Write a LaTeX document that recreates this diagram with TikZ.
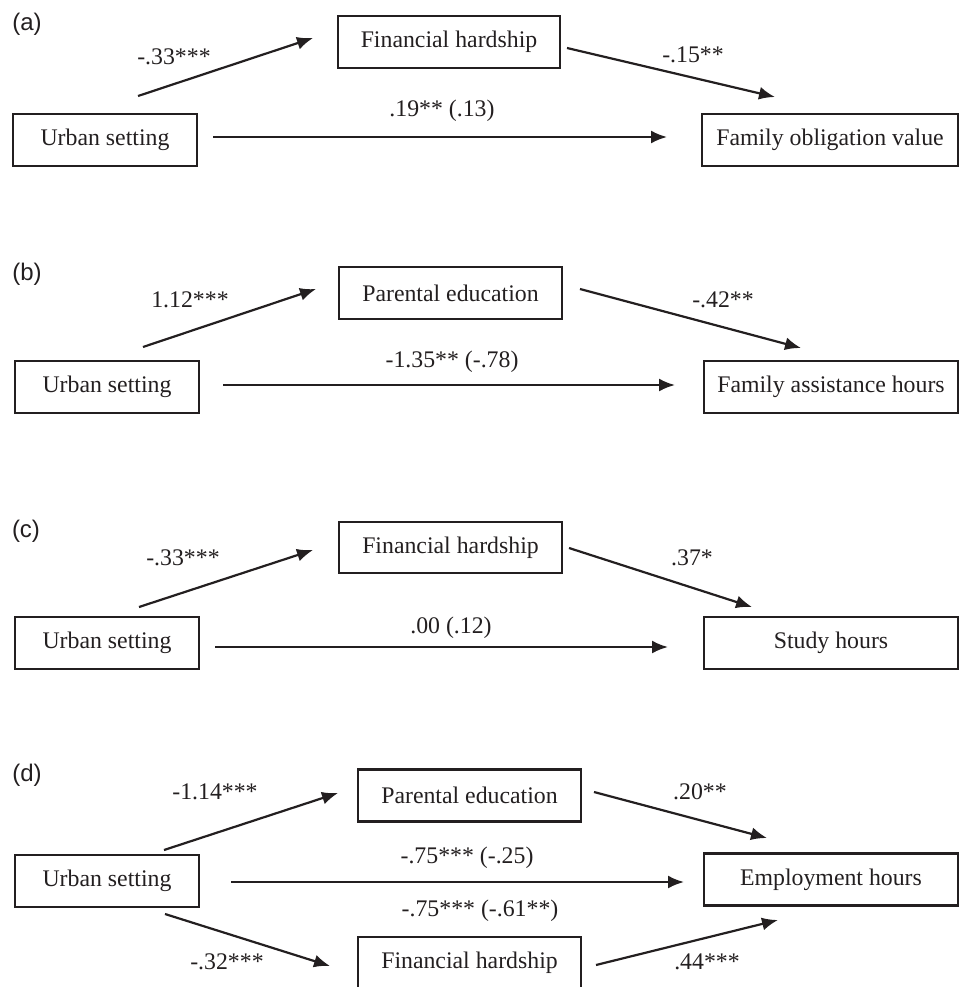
\documentclass[tikz,border=0pt]{standalone}
\usepackage{fontspec}
\setmainfont{Liberation Serif}
\newfontfamily\panelfont{Liberation Sans}
\usetikzlibrary{arrows.meta}
\definecolor{ink}{HTML}{231F20}
\tikzset{
  box/.style={draw=ink, line width=2.2pt, rectangle, minimum height=52pt, inner sep=0pt, text=ink, font=\fontsize{23.8}{28}\selectfont},
  lbl/.style={text=ink, inner sep=0pt, font=\fontsize{23.8}{28}\selectfont},
  plbl/.style={text=ink, inner sep=0pt, font=\panelfont\fontsize{24}{28}\selectfont},
  arr/.style={draw=ink, line width=2.2pt, -{Latex[length=16pt,width=13pt]}},
}
\begin{document}
\begin{tikzpicture}[x=1pt,y=-1pt]
\useasboundingbox (0,0) rectangle (961,987);
% ---------- (a)
\node[plbl] (la) at (27,24) {(a)};
\node[box, minimum width=222pt] (fha) at (449,42) {Financial hardship};
\node[box, minimum width=184pt] (usa) at (105,140) {Urban setting};
\node[box, minimum width=256pt] (fov) at (830,140) {Family obligation value};
\coordinate (a1s) at (138,96); \coordinate (a1e) at (313,38);
\coordinate (a2s) at (567,48); \coordinate (a2e) at (775,97);
\coordinate (a3s) at (213,137); \coordinate (a3e) at (667,137);
\draw[arr] (a1s) -- (a1e);
\draw[arr] (a2s) -- (a2e);
\draw[arr] (a3s) -- (a3e);
\node[lbl] (la1) at (174,57) {-.33***};
\node[lbl] (la2) at (693,55) {-.15**};
\node[lbl] (la3) at (442,111) {.19** (.13)};
% ---------- (b)
\node[plbl] (lb) at (27,274) {(b)};
\node[box, minimum width=223pt] (peb) at (450.5,293) {Parental education};
\node[box, minimum width=184pt] (usb) at (107,387) {Urban setting};
\node[box, minimum width=254pt] (fah) at (831,387) {Family assistance hours};
\coordinate (b1s) at (143,347); \coordinate (b1e) at (316,289);
\coordinate (b2s) at (580,289); \coordinate (b2e) at (801,348);
\coordinate (b3s) at (223,385); \coordinate (b3e) at (675,385);
\draw[arr] (b1s) -- (b1e);
\draw[arr] (b2s) -- (b2e);
\draw[arr] (b3s) -- (b3e);
\node[lbl] (lb1) at (190,300) {1.12***};
\node[lbl] (lb2) at (723,300) {-.42**};
\node[lbl] (lb3) at (452,362) {-1.35** (-.78)};
% ---------- (c)
\node[plbl] (lc) at (26,531) {(c)};
\node[box, minimum width=223pt, minimum height=51pt] (fhc) at (450.5,547.5) {Financial hardship};
\node[box, minimum width=184pt] (usc) at (107,643) {Urban setting};
\node[box, minimum width=254pt] (sh) at (831,643) {Study hours};
\coordinate (c1s) at (139,607); \coordinate (c1e) at (313,550);
\coordinate (c2s) at (569,548); \coordinate (c2e) at (752,607);
\coordinate (c3s) at (215,647); \coordinate (c3e) at (668,647);
\draw[arr] (c1s) -- (c1e);
\draw[arr] (c2s) -- (c2e);
\draw[arr] (c3s) -- (c3e);
\node[lbl] (lc1) at (183,558) {-.33***};
\node[lbl] (lc2) at (692,558) {.37*};
\node[lbl] (lc3) at (451,628) {.00 (.12)};
% ---------- (d)
\node[plbl] (ld) at (27,775) {(d)};
\node[box, minimum width=223pt] (ped) at (469.5,795.5) {Parental education};
\node[box, minimum width=184pt] (usd) at (107,881) {Urban setting};
\node[box, minimum width=254pt] (eh) at (831,879.5) {Employment hours};
\node[box, minimum width=223pt] (fhd) at (469.5,963) {Financial hardship};
\coordinate (d1s) at (164,850); \coordinate (d1e) at (338,793);
\coordinate (d2s) at (594,792); \coordinate (d2e) at (767,838);
\coordinate (d3s) at (231,882); \coordinate (d3e) at (684,882);
\coordinate (d4s) at (165,914); \coordinate (d4e) at (330,966);
\coordinate (d5s) at (596,965); \coordinate (d5e) at (778,920);
\draw[arr] (d1s) -- (d1e);
\draw[arr] (d2s) -- (d2e);
\draw[arr] (d3s) -- (d3e);
\draw[arr] (d4s) -- (d4e);
\draw[arr] (d5s) -- (d5e);
\node[lbl] (ld1) at (215,792) {-1.14***};
\node[lbl] (ld2) at (700,792) {.20**};
\node[lbl] (ld3) at (467,858) {-.75*** (-.25)};
\node[lbl] (ld4) at (480,911) {-.75*** (-.61**)};
\node[lbl] (ld5) at (227,962) {-.32***};
\node[lbl] (ld6) at (707,962) {.44***};
\end{tikzpicture}
\end{document}
